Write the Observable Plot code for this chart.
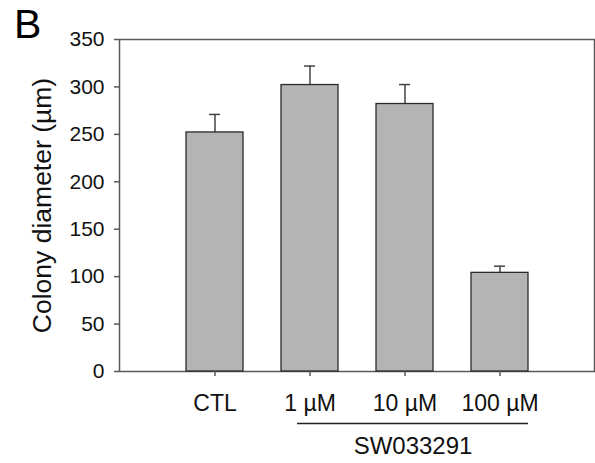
<!DOCTYPE html>
<html>
<head>
<meta charset="utf-8">
<script src="https://cdn.jsdelivr.net/npm/d3@7"></script>
<script src="https://cdn.jsdelivr.net/npm/@observablehq/plot@0.6"></script>
<style>
  html, body { margin: 0; padding: 0; background: #fff; }
  #wrap { position: relative; width: 595px; height: 463px; font-family: "Liberation Sans", Arial, sans-serif; }
  #panel { position: absolute; left: 14px; top: 4px; font-size: 41px; line-height: 41px; color: #000; z-index: 2; }
</style>
</head>
<body>
<div id="wrap"><div id="panel">B</div></div>
<script>
const categories = ["CTL", "1 µM", "10 µM", "100 µM"];
const values = [252, 302, 282, 104];
const errors = [19, 20, 20.5, 7];
const yTicks = [0, 50, 100, 150, 200, 250, 300, 350];
const groupLabel = "SW033291";
const groupMembers = ["1 µM", "10 µM", "100 µM"];
const yLabel = "Colony diameter (µm)";

const data = categories.map((c, i) => ({cat: c, value: values[i], err: errors[i], top: values[i] + errors[i]}));
const group = [{label: groupLabel, from: groupMembers[0], mid: groupMembers[1], to: groupMembers[groupMembers.length - 1], base: 0}];

const font = "Liberation Sans, Arial, sans-serif";
const plot = Plot.plot({
  width: 595,
  height: 463,
  marginLeft: 119,
  marginRight: 1,
  marginTop: 39,
  marginBottom: 92,
  style: {fontFamily: font, background: "transparent", overflow: "visible"},
  x: {type: "band", domain: categories, range: [166.5, 546.5], paddingInner: 0.4, paddingOuter: 0.2},
  y: {domain: [0, 350]},
  marks: [
    Plot.frame({stroke: "#5a5a5a", strokeWidth: 1.5}),
    Plot.ruleX(data, {x: "cat", y1: "value", y2: "top", stroke: "#444", strokeWidth: 1.5}),
    Plot.tickY(data, {x: "cat", y: "top", stroke: "#444", strokeWidth: 1.5, insetLeft: 23, insetRight: 23}),
    Plot.barY(data, {x: "cat", y: "value", fill: "#b4b4b4", stroke: "#2a2a2a", strokeWidth: 1.3}),
    Plot.axisY({ticks: yTicks, tickSize: 5, tickPadding: 10, stroke: "#5a5a5a", strokeWidth: 1.5, fill: "#111",
      label: yLabel, labelAnchor: "center", labelArrow: "none", labelOffset: 87}),
    Plot.axisX({tickSize: 5, tickPadding: 18, stroke: "#5a5a5a", strokeWidth: 1.5, fill: "#111", label: null}),
    Plot.ruleY(group, {x1: "from", x2: "to", y: "base", dy: 52, insetLeft: 16, stroke: "#222", strokeWidth: 1.5, clip: false}),
    Plot.text(group, {x: "mid", y: "base", text: "label", dx: 8, dy: 75, fontSize: 24, fill: "#111", clip: false})
  ]
});
const setSize = (sel, size) => plot.querySelectorAll(sel).forEach(el => { el.setAttribute("font-size", size); el.style.fontSize = size + "px"; });
setSize("g[aria-label='y-axis tick label']", 21);
setSize("g[aria-label='x-axis tick label']", 23);
setSize("g[aria-label='y-axis label']", 26.5);
const wrap = document.getElementById("wrap");
plot.style.position = "absolute";
plot.style.left = "0";
plot.style.top = "0";
wrap.insertBefore(plot, wrap.firstChild);
</script>
</body>
</html>
